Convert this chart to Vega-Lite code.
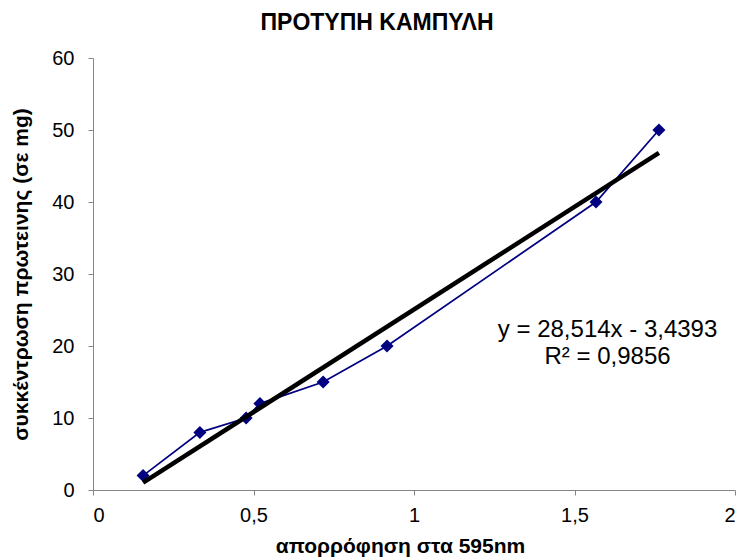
{
  "$schema": "https://vega.github.io/schema/vega-lite/v6.json",
  "width": 642,
  "height": 432,
  "autosize": "none",
  "padding": {"left": 93, "top": 58, "right": 1, "bottom": 69},
  "background": "white",
  "config": {
    "view": {"stroke": null},
    "font": "Liberation Sans",
    "axis": {"grid": false, "domainColor": "#868686", "tickColor": "#868686", "tickSize": 5, "labelColor": "black", "labelFont": "Liberation Sans", "labelFontSize": 20, "titleFont": "Liberation Sans", "titleFontSize": 21, "titleFontWeight": "bold", "titleColor": "black"}
  },
  "title": {"text": "ΠΡΟΤΥΠΗ ΚΑΜΠΥΛΗ", "font": "Liberation Sans", "fontSize": 23, "fontWeight": "bold", "color": "black", "anchor": "middle", "frame": "group", "dx": -37, "dy": 31, "baseline": "bottom", "offset": 21},
  "datasets": {
    "points": [
      {"absorbance": 0.156, "concentration": 2},
      {"absorbance": 0.333, "concentration": 8},
      {"absorbance": 0.477, "concentration": 10},
      {"absorbance": 0.52, "concentration": 12},
      {"absorbance": 0.717, "concentration": 15},
      {"absorbance": 0.916, "concentration": 20},
      {"absorbance": 1.567, "concentration": 40},
      {"absorbance": 1.763, "concentration": 50}
    ],
    "trend": [
      {"absorbance": 0.156, "concentration": 1.01},
      {"absorbance": 1.763, "concentration": 46.83}
    ]
  },
  "layer": [
    {
      "data": {"name": "points"},
      "mark": {"type": "line", "color": "#000080", "strokeWidth": 1.75, "point": {"shape": "diamond", "size": 170, "color": "#000080", "filled": true, "opacity": 1}},
      "encoding": {
        "x": {"field": "absorbance", "type": "quantitative", "scale": {"domain": [0, 2], "nice": false}, "axis": {"values": [0, 0.5, 1, 1.5, 2], "format": "~g", "labelExpr": "replace(datum.label, '.', ',')", "title": "απορρόφηση στα 595nm", "titleX": 307, "titleY": 62, "titleBaseline": "alphabetic", "labelPadding": 10}},
        "y": {"field": "concentration", "type": "quantitative", "scale": {"domain": [0, 60], "nice": false}, "axis": {"values": [0, 10, 20, 30, 40, 50, 60], "title": "συκκέντρωση πρωτεινης (σε mg)", "titlePadding": 20, "labelPadding": 14}}
      }
    },
    {
      "data": {"name": "trend"},
      "mark": {"type": "line", "color": "black", "strokeWidth": 4.5},
      "encoding": {
        "x": {"field": "absorbance", "type": "quantitative"},
        "y": {"field": "concentration", "type": "quantitative"}
      }
    },
    {
      "data": {"values": [{}]},
      "mark": {"type": "text", "text": ["y = 28,514x - 3,4393", "R² = 0,9856"], "font": "Liberation Sans", "fontSize": 24, "align": "center", "baseline": "alphabetic", "lineHeight": 27, "color": "black"},
      "encoding": {
        "x": {"datum": 1.603, "type": "quantitative"},
        "y": {"datum": 21.25, "type": "quantitative"}
      }
    }
  ]
}
